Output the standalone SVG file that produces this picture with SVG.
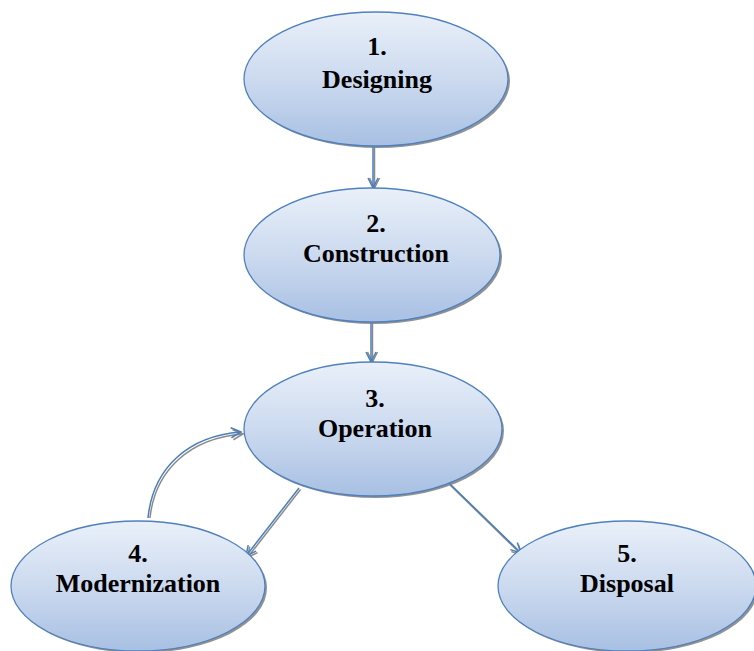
<svg xmlns="http://www.w3.org/2000/svg" width="754" height="651" viewBox="0 0 754 651">
<defs>
<linearGradient id="g" x1="0" y1="0" x2="0" y2="1">
<stop offset="0" stop-color="#e9f0f9"/>
<stop offset="0.5" stop-color="#ccdaef"/>
<stop offset="1" stop-color="#a8c0e3"/>
</linearGradient>
<marker id="ah" viewBox="0 0 12 12" refX="11" refY="6" markerWidth="12" markerHeight="12" markerUnits="userSpaceOnUse" orient="auto">
<path d="M1,1 L11,6 L1,11" fill="none" stroke="#4a7ebb" stroke-width="1.5"/>
</marker>
<marker id="ahs" viewBox="0 0 12 12" refX="11" refY="6" markerWidth="12" markerHeight="12" markerUnits="userSpaceOnUse" orient="auto">
<path d="M1,1 L11,6 L1,11" fill="none" stroke="#8a8a8a" stroke-width="1.5"/>
</marker>
</defs>
<style>
.sh{fill:#7f7f7f;opacity:0.85}
.nd{fill:url(#g);stroke:#4f81bd;stroke-width:1.3}
.t{font-family:"Liberation Serif","Times New Roman",serif;font-weight:bold;font-size:26px;fill:#000;text-anchor:middle}
.c{fill:none;stroke:#4a7ebb;stroke-width:1.5}
.cs{fill:none;stroke:#8a8a8a;stroke-width:1.5}
</style>
<g id="connectors">
<path class="cs" d="M374.5,147 L374.5,188" marker-end="url(#ahs)"/>
<path class="c" d="M373,147 L373,188" marker-end="url(#ah)"/>
<path class="cs" d="M372.5,323 L372.5,362" marker-end="url(#ahs)"/>
<path class="c" d="M371,323 L371,362" marker-end="url(#ah)"/>
<path class="cs" d="M150,518 C155,470 190,438 243,434" marker-end="url(#ahs)"/>
<path class="c" d="M148,518 C153,468 188,436 241,432" marker-end="url(#ah)"/>
<path class="cs" d="M300.5,489.5 L247.5,557.5" marker-end="url(#ahs)"/>
<path class="c" d="M299,488 L246,556" marker-end="url(#ah)"/>
<path class="cs" d="M450,485 L522,555" marker-end="url(#ahs)"/>
<path class="c" d="M449,483 L521,553" marker-end="url(#ah)"/>
</g>
<g id="node1">
<ellipse class="sh" cx="378" cy="81" rx="132" ry="67"/>
<ellipse class="nd" cx="376" cy="79" rx="132" ry="67"/>
<text class="t" x="377" y="55">1.</text>
<text class="t" x="377" y="88">Designing</text>
</g>
<g id="node2">
<ellipse class="sh" cx="374" cy="257" rx="128" ry="67"/>
<ellipse class="nd" cx="372" cy="255" rx="128" ry="67"/>
<text class="t" x="376" y="232">2.</text>
<text class="t" x="376" y="262">Construction</text>
</g>
<g id="node3">
<ellipse class="sh" cx="375" cy="431" rx="129" ry="67"/>
<ellipse class="nd" cx="373" cy="429" rx="129" ry="67"/>
<text class="t" x="375" y="407">3.</text>
<text class="t" x="375" y="437">Operation</text>
</g>
<g id="node4">
<ellipse class="sh" cx="140" cy="588" rx="127" ry="65"/>
<ellipse class="nd" cx="138" cy="586" rx="127" ry="65"/>
<text class="t" x="138" y="562">4.</text>
<text class="t" x="138" y="592">Modernization</text>
</g>
<g id="node5">
<ellipse class="sh" cx="629" cy="588" rx="129" ry="65"/>
<ellipse class="nd" cx="627" cy="586" rx="129" ry="65"/>
<text class="t" x="627" y="562">5.</text>
<text class="t" x="627" y="592">Disposal</text>
</g>
</svg>
